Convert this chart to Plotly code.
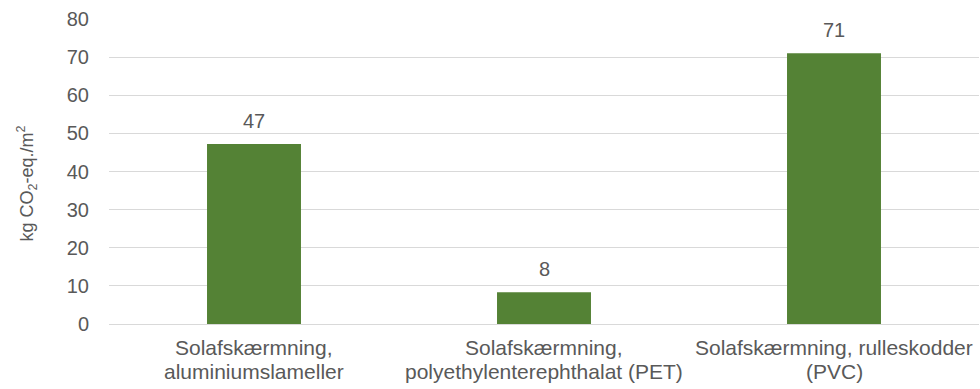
import plotly.graph_objects as go

categories = ["cat1", "cat2", "cat3"]
label_line1 = ["Solafskærmning,", "Solafskærmning,", "Solafskærmning, rulleskodder"]
label_line2 = ["aluminiumslameller", "polyethylenterephthalat (PET)", "(PVC)"]
values = [47.2, 8.3, 71.0]
y_ticks = [0, 10, 20, 30, 40, 50, 60, 70, 80]

FONT = "Arial, Liberation Sans, sans-serif"
GRAY = "#595959"
GREEN = "#548235"

fig = go.Figure()
fig.add_trace(go.Bar(x=categories, y=values, marker=dict(color=GREEN, line=dict(width=0)),
                     hoverinfo="skip"))

annotations = []
for c, v in zip(categories, values):
    annotations.append(dict(x=c, y=v, xref="x", yref="y", text=f"{v:.0f}", showarrow=False,
                            yanchor="bottom", yshift=10,
                            font=dict(family=FONT, size=20, color=GRAY)))
for c, l1, l2 in zip(categories, label_line1, label_line2):
    annotations.append(dict(x=c, y=0, xref="x", yref="paper", text=l1, showarrow=False,
                            yanchor="top", yshift=-11, borderpad=0,
                            font=dict(family=FONT, size=21, color=GRAY)))
    annotations.append(dict(x=c, y=0, xref="x", yref="paper", text=l2, showarrow=False,
                            yanchor="top", yshift=-35, borderpad=0,
                            font=dict(family=FONT, size=21, color=GRAY)))
annotations.append(dict(x=0, y=0.5, xref="paper", yref="paper", xanchor="center", yanchor="middle",
                        xshift=-82, yshift=-12, textangle=-90, showarrow=False,
                        text="kg CO<sub>2</sub>-eq./m<sup>2</sup>",
                        font=dict(family=FONT, size=18, color=GRAY)))

fig.update_layout(
    width=980, height=389,
    margin=dict(l=109, r=1, t=19, b=65, pad=0),
    paper_bgcolor="white", plot_bgcolor="white",
    bargap=0.676,
    showlegend=False,
    annotations=annotations,
    xaxis=dict(type="category", range=[-0.5, 2.5], showticklabels=False, showgrid=False,
               zeroline=False, showline=False, ticks=""),
    yaxis=dict(range=[0, 80], tickvals=y_ticks, showgrid=True, gridcolor="#d9d9d9", gridwidth=1,
               zeroline=True, zerolinecolor="#d9d9d9", zerolinewidth=1, showline=False,
               ticks="", ticklabelstandoff=19,
               tickfont=dict(family=FONT, size=20, color=GRAY)),
)

fig.write_html("out.html", config={"displayModeBar": False},
               post_script="document.body.style.margin='0';document.body.style.overflow='hidden';")
